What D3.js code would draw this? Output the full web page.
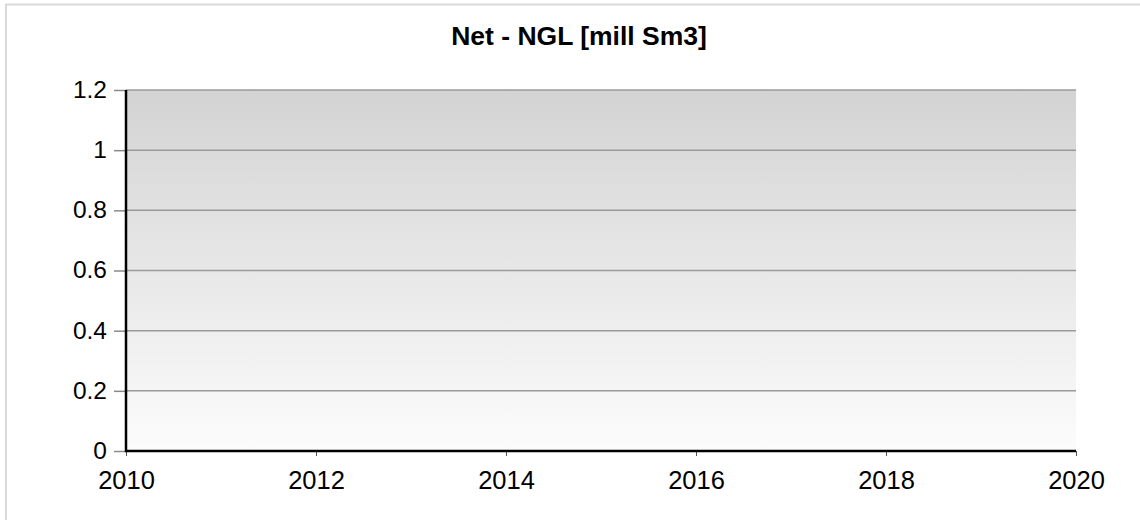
<!DOCTYPE html>
<html>
<head>
<meta charset="utf-8">
<script src="https://cdn.jsdelivr.net/npm/d3@7"></script>
<style>
    body { margin: 0; background: #fff; overflow: hidden; }
    svg { display: block; font-family: "Liberation Sans", Arial, sans-serif; }
</style>
</head>
<body>
<div id="chart"></div>
<script>
const title = 'Net - NGL [mill Sm3]';
const years = [];       // no data in this chart
const values = [];
const xTicks = [2010, 2012, 2014, 2016, 2018, 2020];
const yTicks = [0, 0.2, 0.4, 0.6, 0.8, 1, 1.2];

const width = 1140;
const height = 520;
const margin = { top: 90, right: 64, bottom: 69, left: 126 };

const svg = d3.select('#chart')
    .append('svg')
    .attr('width', width)
    .attr('height', height);

// outer frame (runs off the right and bottom edges)
svg.append('rect')
    .attr('x', 6).attr('y', 4.5)
    .attr('width', width + 20).attr('height', height + 20)
    .attr('fill', '#fff')
    .attr('stroke', '#d9d9d9')
    .attr('stroke-width', 2);

const x = d3.scaleLinear()
    .domain([2010, 2020])
    .range([margin.left, width - margin.right]);

const y = d3.scaleLinear()
    .domain([0, 1.2])
    .range([height - margin.bottom, margin.top]);

const grad = svg.append('defs').append('linearGradient')
    .attr('id', 'bg')
    .attr('x1', 0).attr('y1', 0).attr('x2', 0).attr('y2', 1);
grad.append('stop').attr('offset', '0%').attr('stop-color', '#d3d3d3');
grad.append('stop').attr('offset', '100%').attr('stop-color', '#fcfcfc');

svg.append('rect')
    .attr('x', x(2010)).attr('y', y(1.2))
    .attr('width', x(2020) - x(2010))
    .attr('height', y(0) - y(1.2))
    .attr('fill', 'url(#bg)');

// gridlines
svg.append('g')
    .selectAll('line')
    .data(yTicks.filter(d => d > 0))
    .enter()
    .append('line')
    .attr('x1', x(2010))
    .attr('x2', x(2020))
    .attr('y1', d => y(d))
    .attr('y2', d => y(d))
    .attr('stroke', '#9a9a9a')
    .attr('stroke-width', 1.5);

// series (empty)
svg.append('path')
    .datum(years.map((d, i) => [d, values[i]]))
    .attr('fill', 'none')
    .attr('stroke', '#1f77b4')
    .attr('d', d3.line().x(d => x(d[0])).y(d => y(d[1])));

const yAxis = svg.append('g')
    .attr('transform', `translate(${x(2010)},0)`)
    .call(d3.axisLeft(y).tickValues(yTicks).tickFormat(d3.format('~g')).tickSize(12).tickPadding(7));
yAxis.select('.domain').remove();
yAxis.selectAll('.tick line').attr('stroke', '#8a8a8a').attr('stroke-width', 1.5);
yAxis.selectAll('.tick text')
    .attr('font-size', 24.5)
    .attr('fill', '#000')
    .attr('dy', '0.3em');

const xAxis = svg.append('g')
    .attr('transform', `translate(0,${y(0)})`)
    .call(d3.axisBottom(x).tickValues(xTicks).tickFormat(d3.format('d')).tickSize(5).tickPadding(15));
xAxis.select('.domain').remove();
xAxis.selectAll('.tick line').attr('stroke', '#555').attr('stroke-width', 1);
xAxis.selectAll('.tick text')
    .attr('font-size', 25.5)
    .attr('fill', '#000');

// axis lines
svg.append('line')
    .attr('x1', x(2010)).attr('x2', x(2010))
    .attr('y1', y(1.2)).attr('y2', y(0) + 1)
    .attr('stroke', '#000').attr('stroke-width', 2.5);
svg.append('line')
    .attr('x1', x(2010) - 1).attr('x2', x(2020))
    .attr('y1', y(0)).attr('y2', y(0))
    .attr('stroke', '#000').attr('stroke-width', 2.5);

svg.append('text')
    .attr('x', 579)
    .attr('y', 45)
    .attr('text-anchor', 'middle')
    .attr('font-size', 26.5)
    .attr('font-weight', 'bold')
    .text(title);
</script>
</body>
</html>
